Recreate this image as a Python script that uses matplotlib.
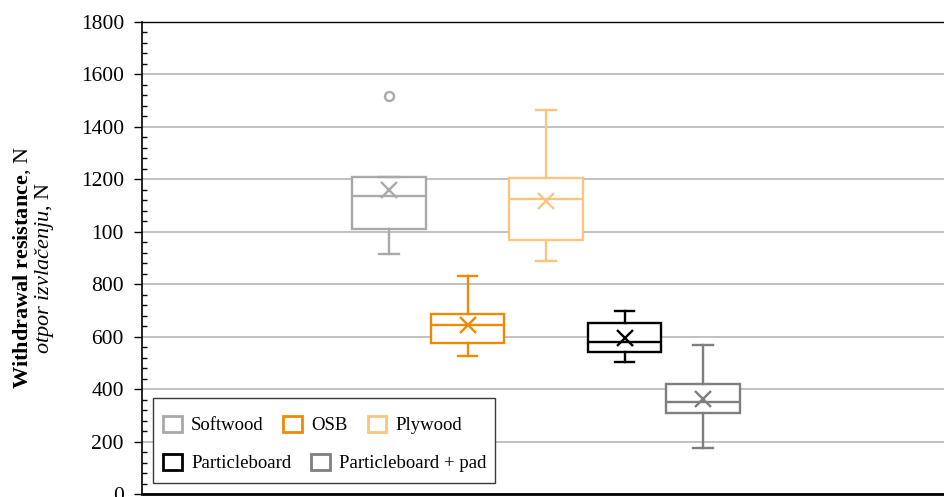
import numpy as np
import matplotlib
matplotlib.use("Agg")
import matplotlib.pyplot as plt
from matplotlib.patches import Patch, Rectangle

plt.rcParams['font.family'] = ['Liberation Serif', 'DejaVu Serif']
plt.rcParams['mathtext.fontset'] = 'custom'
plt.rcParams['mathtext.rm'] = 'Liberation Serif'
plt.rcParams['mathtext.bf'] = 'Liberation Serif:bold'
plt.rcParams['mathtext.it'] = 'Liberation Serif:italic'

# Box plot statistics (N)
series = ['Softwood', 'OSB', 'Plywood', 'Particleboard', 'Particleboard + pad']
whislo = [915, 527, 890, 502, 175]
q1 = [1012, 575, 970, 541, 308]
med = [1138, 643, 1124, 581, 349]
q3 = [1208, 688, 1206, 652, 420]
whishi = [1208, 830, 1466, 696, 567]
means = [1159, 645, 1119, 595, 363]
fliers = [[1518], [], [], [], []]
colors = ['#a9a9a9', '#ee8a00', '#fbc57f', '#000000', '#7f7f7f']

# y tick labels as printed in the original (note "100" at 1000)
yticks = [0, 200, 400, 600, 800, 1000, 1200, 1400, 1600, 1800]
yticklabels = ['0', '200', '400', '600', '800', '100', '1200', '1400', '1600', '1800']

fig = plt.figure(figsize=(9.44, 4.97), dpi=100)
ax = fig.add_axes([142 / 944, 3 / 497, 808 / 944, 472 / 497])

positions = np.arange(1, len(series) + 1)
stats = []
for i in range(len(series)):
    stats.append(dict(whislo=whislo[i], q1=q1[i], med=med[i], q3=q3[i],
                      whishi=whishi[i], mean=means[i], fliers=fliers[i]))

for i, c in enumerate(colors):
    ax.bxp([stats[i]], positions=[positions[i]], widths=0.94, capwidths=0.25,
           showmeans=True, patch_artist=True,
           boxprops=dict(facecolor='white', edgecolor=c, linewidth=1.7),
           medianprops=dict(color=c, linewidth=1.7),
           whiskerprops=dict(color=c, linewidth=1.7),
           capprops=dict(color=c, linewidth=1.7),
           meanprops=dict(marker='x', markeredgecolor=c, markersize=11,
                          markeredgewidth=1.7),
           flierprops=dict(marker='o', markerfacecolor='none',
                           markeredgecolor=c, markersize=6.5,
                           markeredgewidth=1.7),
           manage_ticks=False, zorder=3)

half = 404 / 78.5
ax.set_xlim(3 - half, 3 + half)
ax.set_ylim(0, 1800)
ax.set_yticks(yticks)
ax.set_yticklabels(yticklabels, fontsize=15.5)
ax.set_yticks(np.arange(0, 1801, 40), minor=True)
ax.set_xticks([])
ax.tick_params(axis='y', which='major', direction='out', length=6, width=1, pad=7)
ax.tick_params(axis='y', which='minor', direction='in', length=3.5, width=1)
ax.grid(axis='y', which='major', color='#b0b0b0', linewidth=1.1, zorder=0)
ax.set_axisbelow(True)
ax.spines['left'].set_linewidth(1.2)
ax.spines['top'].set_linewidth(1.0)
ax.spines['bottom'].set_linewidth(2.0)
ax.spines['right'].set_linewidth(1.0)

ax.set_ylabel(r'$\mathbf{Withdrawal\ resistance}$, N' + '\n' +
              r'$\mathit{otpor\ izvlačenju}$, N',
              fontsize=16, linespacing=1.0)
ax.yaxis.set_label_coords(-0.106, 0.48)

# legend frame and two rows
ax.add_patch(Rectangle((11 / 808, 11 / 472), 342 / 808, 85 / 472,
                       transform=ax.transAxes, facecolor='white',
                       edgecolor='#3a3a3a', linewidth=1.0, zorder=4))
handles = [Patch(facecolor='white', edgecolor=c, linewidth=2) for c in colors]
leg_kw = dict(frameon=False, fontsize=13.5, handlelength=1.0, handleheight=1.0,
              handletextpad=0.5, columnspacing=1.05, borderpad=0,
              borderaxespad=0, loc='center left')
leg1 = ax.legend(handles[:3], series[:3], ncol=3,
                 bbox_to_anchor=(21 / 808, 69 / 472), **leg_kw)
leg1.set_zorder(5)
ax.add_artist(leg1)
leg2 = ax.legend(handles[3:], series[3:], ncol=2,
                 bbox_to_anchor=(21 / 808, 31 / 472), **leg_kw)
leg2.set_zorder(5)

fig.savefig('out.png', dpi=100)
